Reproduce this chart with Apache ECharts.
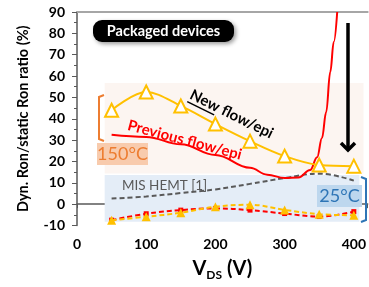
<!DOCTYPE html>
<html>
<head>
<meta charset="utf-8">
<script src="https://cdn.jsdelivr.net/npm/echarts@6/dist/echarts.min.js"></script>
<style>
html, body { margin: 0; padding: 0; background: #fff; }
#chart { width: 369px; height: 287px; }
</style>
</head>
<body>
<div id="chart"></div>
<script>
// data
var vds = [50, 100, 150, 200, 250, 300, 350, 400];
var newFlow150 = [44, 52.5, 46, 37.5, 29.5, 22.5, 18.3, 17.8];
var prevFlow150X = [50, 100, 150, 200, 250, 275, 300, 320, 337, 347, 354, 360, 366, 371, 376];
var prevFlow150Y = [32.5, 31.5, 28, 23, 17, 13.8, 12.2, 12.5, 16, 22, 31, 43, 62, 76, 90];
var misHemt25 = [2.6, 3.6, 5.2, 6.9, 9.5, 12.2, 14.3, 11];
var newFlow25 = [-7.5, -5.9, -4, -1.2, -0.3, -2.7, -4.7, -5.2];
var prevFlow25 = [-7.5, -4.5, -2.8, -2, -2.8, -4.4, -5.8, -3.5];
var xTicks = [0, 100, 200, 300, 400];
var yTicks = [-10, 0, 10, 20, 30, 40, 50, 60, 70, 80, 90];

function pairs(xs, ys) {
    return xs.map(function (x, i) { return [x, ys[i]]; });
}

var chart = echarts.init(document.getElementById('chart'));
var FONT = 'Lato';

var option = {
    backgroundColor: '#FFFFFF',
    animation: false,
    grid: { left: 77, top: 12, width: 294, height: 213.5 },
    xAxis: [{
        type: 'value',
        min: xTicks[0],
        max: 420,
        interval: xTicks[1] - xTicks[0],
        axisLine: { lineStyle: { color: '#595959', width: 1.5 } },
        axisTick: { length: 4, lineStyle: { color: '#595959' } },
        minorTick: { show: true, splitNumber: 2, length: 4, lineStyle: { color: '#595959' } },
        splitLine: { show: false },
        axisLabel: { showMaxLabel: false, fontFamily: FONT, fontWeight: 'bold', fontSize: 14, color: '#000', margin: 12 },
        name: '{a|V}{b|DS}{a| (V)}',
        nameLocation: 'middle',
        nameGap: 33,
        nameTextStyle: {
            rich: {
                a: { fontFamily: FONT, fontWeight: 'bold', fontSize: 20, color: '#000' },
                b: { fontFamily: FONT, fontWeight: 'bold', fontSize: 12, color: '#000', verticalAlign: 'bottom', padding: [0, 0, -3, 0] }
            }
        }
    }, {
        type: 'value',
        position: 'top',
        min: 0,
        max: 420,
        axisLine: { show: true, lineStyle: { color: '#a6a6a6', width: 2 } },
        axisTick: { show: false },
        axisLabel: { show: false },
        splitLine: { show: false }
    }],
    yAxis: {
        type: 'value',
        min: yTicks[0],
        max: yTicks[yTicks.length - 1],
        interval: 10,
        axisLine: { show: true, lineStyle: { color: '#595959', width: 1.5 } },
        axisTick: { show: true, length: 5, lineStyle: { color: '#595959' } },
        minorTick: { show: true, splitNumber: 2, length: 3, lineStyle: { color: '#595959' } },
        splitLine: { show: false },
        axisLabel: { fontFamily: FONT, fontWeight: 'bold', fontSize: 14, color: '#000', margin: 12 },
        name: 'Dyn. Ron/static Ron ratio (%)',
        nameLocation: 'middle',
        nameGap: 46,
        nameTextStyle: { fontFamily: FONT, fontWeight: 'bold', fontSize: 14.5, color: '#000' }
    },
    series: [{
        // shaded bands for the two temperatures
        type: 'line',
        data: [],
        silent: true,
        z: 0,
        markArea: {
            silent: true,
            data: [
                [{ coord: [40, 56.7], itemStyle: { color: '#fcf5f1' } }, { coord: [414, 14.3] }],
                [{ coord: [40, 13.6], itemStyle: { color: '#e4edf7' } }, { coord: [408, -8.3] }]
            ]
        }
    }, {
        name: 'MIS HEMT [1]',
        type: 'line',
        data: pairs(vds, misHemt25),
        smooth: 0.4,
        symbol: 'none',
        lineStyle: { color: '#595959', width: 2, type: [5, 3] },
        z: 3
    }, {
        name: 'Previous 25',
        type: 'line',
        data: pairs(vds, prevFlow25),
        smooth: 0.4,
        symbol: 'rect',
        symbolSize: 5,
        itemStyle: { color: '#ff0000' },
        lineStyle: { color: '#ff0000', width: 2, type: [5, 3] },
        z: 3
    }, {
        name: 'New 25',
        type: 'line',
        data: pairs(vds, newFlow25),
        smooth: 0.4,
        symbol: 'triangle',
        symbolSize: 9,
        itemStyle: { color: '#ffc000' },
        lineStyle: { color: '#ffc000', width: 2, type: [5, 3] },
        z: 4
    }, {
        name: 'Previous flow/epi',
        type: 'line',
        data: pairs(prevFlow150X, prevFlow150Y),
        smooth: 0.4,
        smoothMonotone: 'x',
        symbol: 'none',
        lineStyle: { color: '#ff0000', width: 2 },
        z: 4
    }, {
        name: 'New flow/epi',
        type: 'line',
        data: pairs(vds, newFlow150),
        smooth: 0.35,
        symbol: 'emptyTriangle',
        symbolSize: 13,
        itemStyle: { color: '#ffc000', borderWidth: 1.8 },
        lineStyle: { color: '#ffc000', width: 2 },
        z: 5
    }],
    graphic: [
        // "Packaged devices" label
        { type: 'rect', shape: { x: 93, y: 20, width: 141, height: 22, r: 9 },
          style: { fill: '#000', shadowBlur: 4, shadowColor: 'rgba(0,0,0,0.4)', shadowOffsetX: 2, shadowOffsetY: 2 }, z: 10 },
        { type: 'text', x: 163.5, y: 31, z: 11,
          style: { text: 'Packaged devices', fill: '#fff', font: 'bold 14.5px Lato', textAlign: 'center', textVerticalAlign: 'middle' } },
        // 150°C bracket + label
        { type: 'polyline', shape: { points: [[104, 95], [99, 97], [99, 139], [104, 141]] },
          style: { stroke: '#ed7d31', lineWidth: 2, fill: null }, z: 10 },
        { type: 'rect', shape: { x: 97, y: 143, width: 51, height: 22 }, style: { fill: '#f8cbad' }, z: 10 },
        { type: 'text', x: 122.5, y: 154.5, z: 11,
          style: { text: '150°C', fill: '#ed7d31', font: '18px Lato', textAlign: 'center', textVerticalAlign: 'middle' } },
        // 25°C bracket + label
        { type: 'polyline', shape: { points: [[361, 177], [366, 179], [366, 220], [361, 222]] },
          style: { stroke: '#2e75b6', lineWidth: 2, fill: null }, z: 10 },
        { type: 'rect', shape: { x: 317, y: 185, width: 45, height: 22 }, style: { fill: '#bdd7ee' }, z: 10 },
        { type: 'text', x: 339.5, y: 196.5, z: 11,
          style: { text: '25°C', fill: '#2e75b6', font: '18px Lato', textAlign: 'center', textVerticalAlign: 'middle' } },
        // MIS HEMT label
        { type: 'text', x: 122, y: 186, z: 11,
          style: { text: 'MIS HEMT [1]', fill: '#595959', font: '13.5px Lato', textAlign: 'left', textVerticalAlign: 'middle' } },
        // rotated curve labels
        { type: 'text', x: 191, y: 94, rotation: -0.46, z: 12,
          style: { text: 'New flow/epi', fill: '#000', font: 'bold 15px Lato', align: 'left', verticalAlign: 'middle' } },
        { type: 'line', x: 191, y: 94, rotation: -0.46, z: 12,
          shape: { x1: 0, y1: 8.5, x2: 30, y2: 8.5 }, style: { stroke: '#000', lineWidth: 1.5 } },
        { type: 'text', x: 128, y: 125, rotation: -0.26, z: 12,
          style: { text: 'Previous flow/epi', fill: '#ff0000', font: 'bold 15px Lato', align: 'left', verticalAlign: 'middle' } },
        // downward arrow
        { type: 'line', shape: { x1: 348, y1: 23, x2: 348, y2: 150 }, style: { stroke: '#000', lineWidth: 3.5 }, z: 10 },
        { type: 'polyline', shape: { points: [[341, 143], [348, 150], [355, 143]] },
          style: { stroke: '#000', lineWidth: 3.5, fill: null }, z: 10 }
    ]
};

chart.setOption(option);
window.onresize = function () {
    chart.resize();
};
</script>
</body>
</html>
